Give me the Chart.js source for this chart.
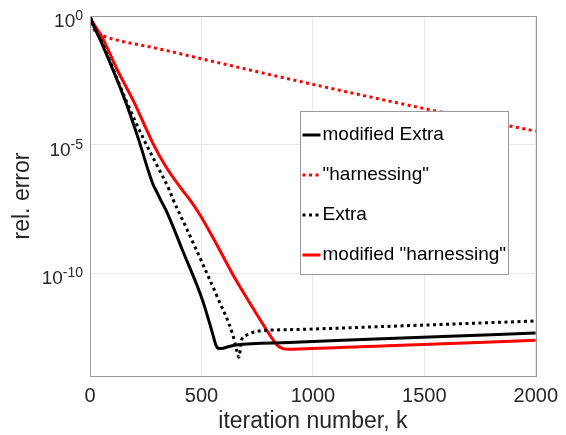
<!DOCTYPE html>
<html>
<head>
<meta charset="utf-8">
<script src="https://cdn.jsdelivr.net/npm/chart.js@4.4.1/dist/chart.umd.min.js"></script>
<style>
  html, body { margin: 0; padding: 0; background: #fff; }
  #wrap { width: 566px; height: 435px; }
</style>
</head>
<body>
<div id="wrap"><canvas id="chart" width="566" height="435"></canvas></div>
<script>
// series names, in legend order
const seriesNames = ['modified Extra', '"harnessing"', 'Extra', 'modified "harnessing"'];

// modified Extra (black solid)
const kModExtra = [0, 10, 55, 160, 215, 282, 300, 315, 342, 416, 506, 551, 565, 575, 590, 620, 655, 894, 1400, 2000];
const errModExtra = [1, 0.562, 7.94e-2, 4.57e-4, 1.905e-5, 2.95e-7, 1.41e-7, 7.59e-8, 2.69e-8, 7.41e-10, 8.32e-12,
  4.17e-13, 1.585e-13, 1.20e-13, 1.17e-13, 1.38e-13, 1.62e-13, 2.0e-13, 3.02e-13, 4.68e-13];

// "harnessing" (red dotted)
const kHarness = [0, 10, 25, 55, 130, 279, 595, 1006, 1506, 2000];
const errHarness = [1, 0.447, 0.240, 0.174, 0.110, 0.0603, 0.01396, 2.14e-3, 2.45e-4, 3.31e-5];

// Extra (black dotted)
const kExtra = [0, 10, 55, 160, 237, 300, 357, 372, 430, 506, 575, 640, 658, 668, 680, 700, 760, 894, 1400, 2000];
const errExtra = [1, 0.562, 8.91e-2, 5.62e-4, 1.905e-5, 1.585e-6, 1.62e-7, 7.59e-8, 6.31e-9, 2.24e-10, 1.0e-11,
  4.17e-13, 1.0e-13, 5.37e-14, 2.51e-13, 3.80e-13, 5.62e-13, 6.31e-13, 8.91e-13, 1.38e-12];

// modified "harnessing" (red solid)
const kModHarness = [0, 10, 55, 120, 197, 285, 340, 416, 446, 491, 560, 640, 720, 805, 840, 860, 885, 939, 1400, 2000];
const errModHarness = [1, 0.631, 0.148, 8.91e-3, 4.57e-4, 1.0e-5, 1.41e-6, 1.62e-7, 7.59e-8, 2.0e-8, 1.78e-9,
  9.12e-11, 6.31e-12, 4.17e-13, 1.585e-13, 1.20e-13, 1.10e-13, 1.12e-13, 1.585e-13, 2.45e-13];

// axis ticks
const xTicks = [0, 500, 1000, 1500, 2000];
const yTicks = [1, 1e-5, 1e-10];
const yTickExponents = ['0', '-5', '-10'];

const FONT = '"Liberation Sans", Arial, Helvetica, sans-serif';
const TEXT = '#262626';

function pts(ks, vals) {
  return ks.map((k, i) => ({ x: k, y: vals[i] }));
}

// box round the axes, y tick labels with exponents, and the legend inside the plot
const matlabLook = {
  id: 'matlabLook',
  afterDatasetsDraw(chart) {
    const ctx = chart.ctx;
    const a = chart.chartArea;
    ctx.save();
    ctx.strokeStyle = '#9a9a9a';
    ctx.lineWidth = 1;
    ctx.strokeRect(Math.round(a.left) + 0.5, Math.round(a.top) + 0.5,
      Math.round(a.right - a.left), Math.round(a.bottom - a.top));

    // y tick labels: 10 with superscript exponent
    const ys = chart.scales.y;
    ctx.fillStyle = TEXT;
    ctx.textAlign = 'left';
    ctx.textBaseline = 'alphabetic';
    yTicks.forEach((v, i) => {
      const py = ys.getPixelForValue(v);
      ctx.font = '14px ' + FONT;
      const ew = ctx.measureText(yTickExponents[i]).width;
      ctx.font = '19px ' + FONT;
      const bw = ctx.measureText('10').width;
      const right = a.left - 7;
      ctx.fillText('10', right - ew - bw, py + 11);
      ctx.font = '14px ' + FONT;
      ctx.fillText(yTickExponents[i], right - ew, py + 4);
    });

    // legend
    const lx = 300.5, ly = 111.5, lw = 208, lh = 163;
    ctx.fillStyle = '#fff';
    ctx.fillRect(lx, ly, lw, lh);
    ctx.strokeStyle = '#9a9a9a';
    ctx.strokeRect(lx, ly, lw, lh);
    ctx.font = '19px ' + FONT;
    ctx.textBaseline = 'middle';
    chart.data.datasets.forEach((ds, i) => {
      const yy = ly + 23.5 + i * 40;
      ctx.beginPath();
      ctx.strokeStyle = ds.borderColor;
      ctx.lineWidth = ds.borderWidth;
      ctx.lineCap = 'butt';
      ctx.setLineDash(ds.borderDash || []);
      ctx.moveTo(lx + 2, yy);
      ctx.lineTo(lx + 20, yy);
      ctx.stroke();
      ctx.setLineDash([]);
      ctx.fillStyle = '#000';
      ctx.fillText(ds.label, lx + 22, yy);
    });
    ctx.restore();
  }
};

const ctx = document.getElementById('chart').getContext('2d');
new Chart(ctx, {
  type: 'line',
  data: {
    datasets: [
      { label: seriesNames[0], data: pts(kModExtra, errModExtra), borderColor: '#000000', borderWidth: 3 },
      { label: seriesNames[1], data: pts(kHarness, errHarness), borderColor: '#ff0000', borderWidth: 3, borderDash: [3, 3.5] },
      { label: seriesNames[2], data: pts(kExtra, errExtra), borderColor: '#000000', borderWidth: 3, borderDash: [3, 3.5] },
      { label: seriesNames[3], data: pts(kModHarness, errModHarness), borderColor: '#ff0000', borderWidth: 3 }
    ]
  },
  options: {
    responsive: false,
    animation: false,
    layout: { padding: { top: 16, right: 29, left: 0, bottom: 0 } },
    elements: {
      point: { radius: 0 },
      line: { cubicInterpolationMode: 'monotone', borderCapStyle: 'butt', fill: false }
    },
    plugins: { legend: { display: false }, tooltip: { enabled: false } },
    scales: {
      x: {
        type: 'linear',
        min: 0,
        max: 2000,
        afterBuildTicks: s => { s.ticks = xTicks.map(v => ({ value: v })); },
        afterFit: s => { s.height = 59; },
        grid: { color: '#e8e8e8', drawTicks: false },
        border: { color: '#9a9a9a' },
        ticks: { font: { family: FONT, size: 20 }, color: TEXT, padding: 8, maxRotation: 0,
          callback: v => String(v) },
        title: { display: true, text: 'iteration number, k', color: TEXT,
          font: { family: FONT, size: 23 }, padding: { top: 0, bottom: 0 } }
      },
      y: {
        type: 'logarithmic',
        min: 1e-14,
        max: 1,
        afterBuildTicks: s => { s.ticks = yTicks.map(v => ({ value: v })); },
        afterFit: s => { s.width = 90; },
        grid: { color: '#e8e8e8', drawTicks: false },
        border: { color: '#9a9a9a' },
        ticks: { display: false },
        title: { display: true, text: 'rel. error', color: TEXT,
          font: { family: FONT, size: 23 }, padding: { top: 9, bottom: 0 } }
      }
    }
  },
  plugins: [matlabLook]
});
</script>
</body>
</html>
